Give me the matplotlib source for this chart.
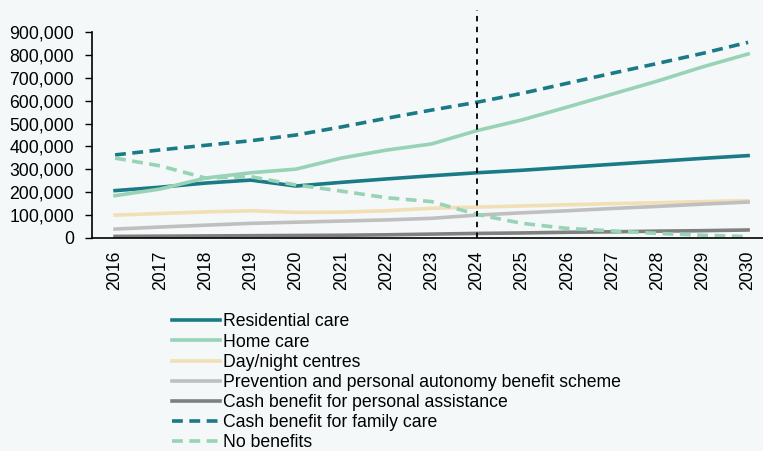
import matplotlib
matplotlib.use("Agg")
import matplotlib.pyplot as plt
import matplotlib.ticker as ticker

plt.rcParams["font.family"] = ["Liberation Sans", "DejaVu Sans"]

# --- Dati ---
years = list(range(2016, 2031))

residential = [207000, 222000, 240000, 253000, 227000, 243000, 258000, 272000,
               285000, 296000, 309000, 322000, 335000, 348000, 360000]
home_care = [185000, 214000, 262000, 285000, 301000, 349000, 384000, 411000,
             469000, 516000, 572000, 629000, 686000, 748000, 804000]
day_night = [100000, 107000, 114000, 119000, 112000, 113000, 119000, 130000,
             135000, 140000, 145000, 150000, 154000, 159000, 163000]
prevention = [39000, 48000, 56000, 64000, 69000, 74000, 79000, 86000,
              100000, 110000, 119000, 129000, 138000, 148000, 157000]
personal_assist = [7000, 8000, 9000, 10000, 11000, 12000, 14000, 17000,
                   20000, 22000, 25000, 27000, 30000, 32000, 35000]
family_care = [363000, 385000, 405000, 425000, 450000, 485000, 523000, 559000,
               593000, 632000, 676000, 720000, 763000, 807000, 855000]
no_benefits = [349000, 315000, 262000, 268000, 232000, 205000, 176000, 159000,
               103000, 64000, 42000, 31000, 20000, 12000, 6000]

CUTOFF_YEAR = 2024

BG = "#f4f8f9"
TEAL = "#1a7a86"
GREEN = "#98d3b6"
BEIGE = "#f1dfb5"
LGREY = "#bfbfbf"
DGREY = "#808080"
FS = 12.7

fig = plt.figure(figsize=(7.63, 4.51), dpi=100, facecolor=BG)
ax = fig.add_axes([0.1206, 0.4723, 0.8794, 0.4567], facecolor=BG)

lw = 2.6
ax.plot(years, residential, color=TEAL, lw=lw, label="Residential care")
ax.plot(years, home_care, color=GREEN, lw=lw, label="Home care")
ax.plot(years, day_night, color=BEIGE, lw=lw, label="Day/night centres")
ax.plot(years, prevention, color=LGREY, lw=lw,
        label="Prevention and personal autonomy benefit scheme")
ax.plot(years, personal_assist, color=DGREY, lw=lw,
        label="Cash benefit for personal assistance")
ax.plot(years, family_care, color=TEAL, lw=lw, dashes=(3, 1.8),
        label="Cash benefit for family care")
ax.plot(years, no_benefits, color=GREEN, lw=lw, dashes=(3, 1.8),
        label="No benefits")

# linea verticale: inizio proiezioni
ax.plot([CUTOFF_YEAR, CUTOFF_YEAR], [0, 995000], color="black", lw=1.3,
        dashes=(3, 3), clip_on=False)

ax.set_xlim(2015.49, 2030.33)
ax.set_ylim(0, 900000)
ax.set_xticks(years)
ax.set_xticklabels([str(y) for y in years], rotation=90)
ax.set_yticks(range(0, 900001, 100000))
ax.yaxis.set_major_formatter(ticker.FuncFormatter(lambda v, _: f"{v:,.0f}"))

ax.tick_params(axis="x", length=0, pad=9, labelsize=FS)
ax.tick_params(axis="y", length=5, width=1, pad=8, labelsize=FS)
for s in ["top", "right"]:
    ax.spines[s].set_visible(False)
for s in ["left", "bottom"]:
    ax.spines[s].set_linewidth(1.2)
    ax.spines[s].set_color("black")

fig.legend(*ax.get_legend_handles_labels(), loc="upper left",
           bbox_to_anchor=(0.2254, 0.305), frameon=False, fontsize=FS,
           handlelength=2.7, handletextpad=0.2, labelspacing=0.18,
           borderpad=0, borderaxespad=0)

fig.savefig("out.png", dpi=100, facecolor=BG)
